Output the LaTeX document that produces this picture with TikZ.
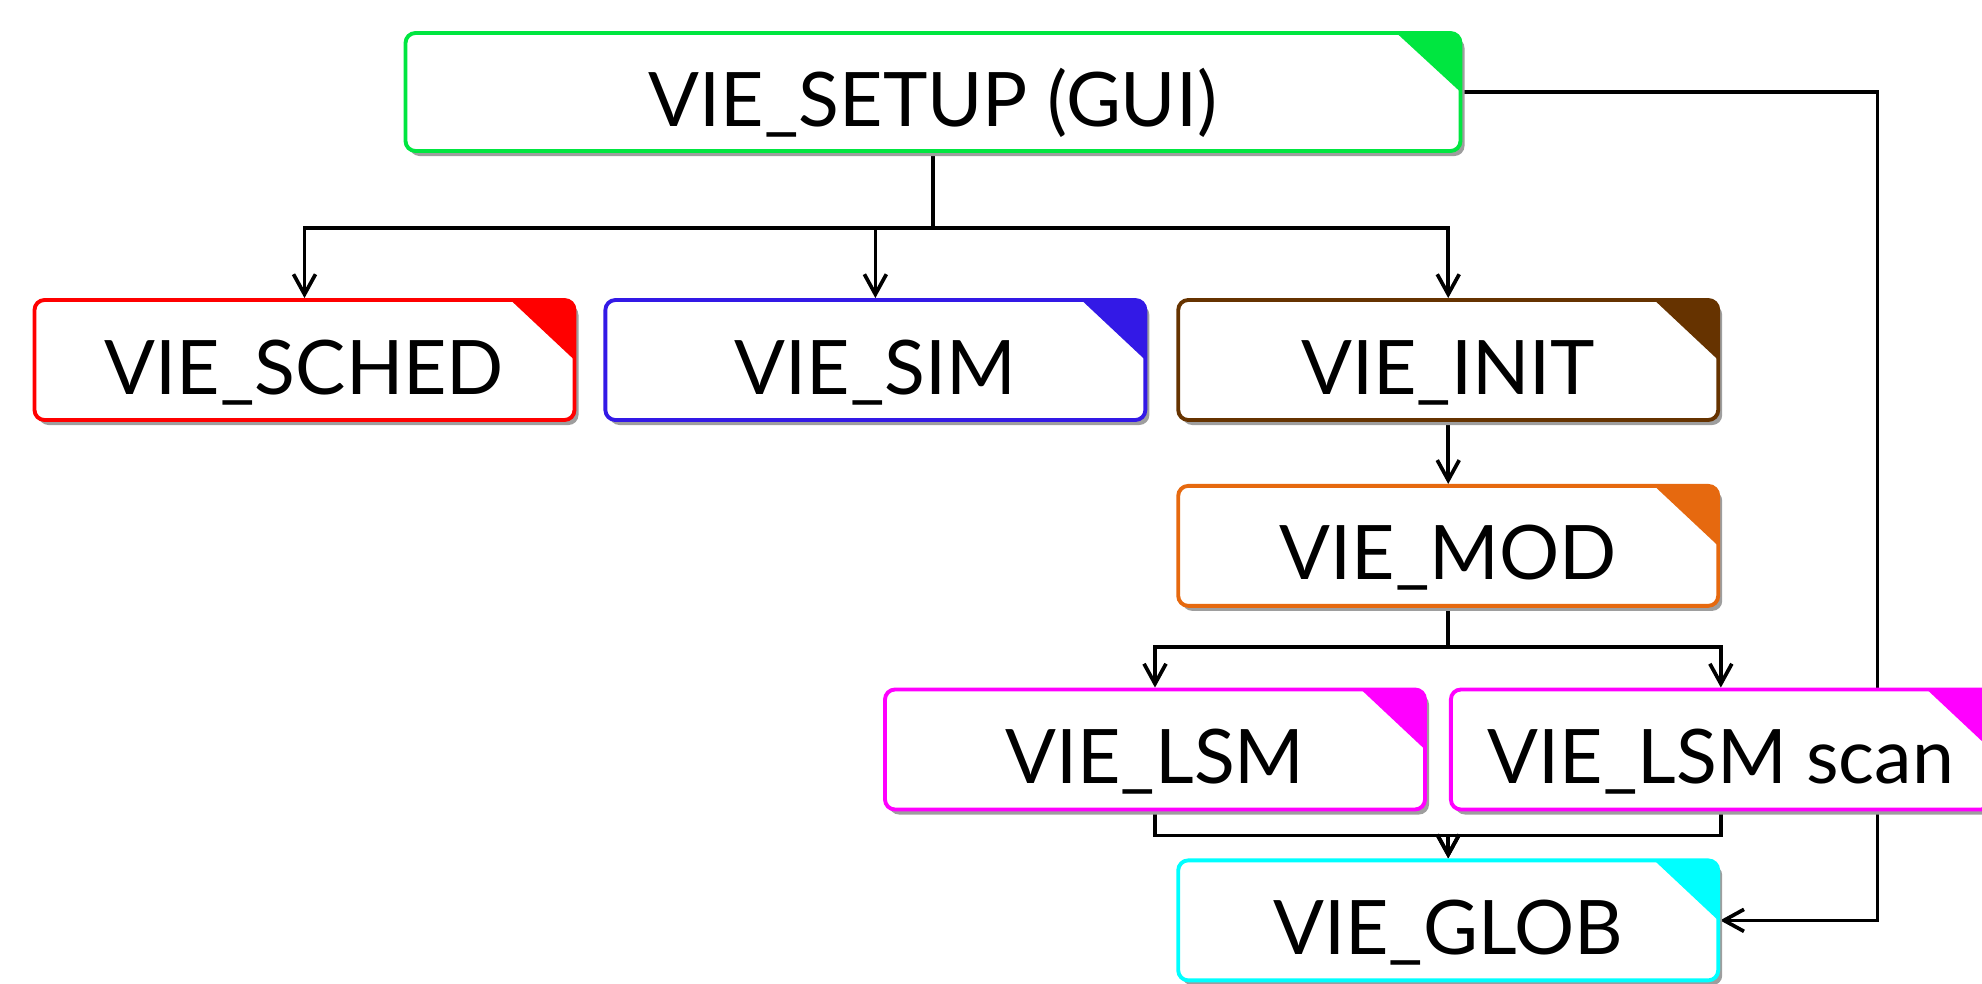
\documentclass[tikz,border=0pt]{standalone}
\usepackage{fontspec}
\setmainfont{Lato}
\usetikzlibrary{positioning,shadows,backgrounds,arrows.meta}

\definecolor{setupgreen}{RGB}{0,230,64}
\definecolor{schedred}{RGB}{255,0,0}
\definecolor{simblue}{RGB}{51,25,230}
\definecolor{initbrown}{RGB}{102,51,0}
\definecolor{modorange}{RGB}{230,105,15}
\definecolor{lsmmagenta}{RGB}{255,0,255}
\definecolor{globcyan}{RGB}{0,255,255}

\tikzset{
  module/.style={draw=#1, fill=white, line width=1.1pt, rounded corners=0.1cm,
    minimum width=5.40cm, minimum height=1.2cm, inner sep=0pt,
    font=\fontsize{21.4}{26}\selectfont, text height=0.68cm, text depth=0pt,
    drop shadow={shadow xshift=0.04cm, shadow yshift=-0.05cm, fill=black!38, opacity=1},
    path picture={\fill[#1, sharp corners] (path picture bounding box.north east)
      -- ++(-0.64,0) -- (path picture bounding box.east) -- cycle;}},
  link/.style={line width=1.05pt, -{Straight Barb[length=2mm,width=2.2mm]}},
}

\begin{document}
\begin{tikzpicture}
  \useasboundingbox (0,0) rectangle (19.82,-9.84);

  \node[module=setupgreen, minimum width=10.55cm, minimum height=1.18cm] (setup) at (9.33,-0.92) {VIE\_SETUP (GUI)};
  \node[module=schedred]   (sched) at (3.045,-3.60) {VIE\_SCHED};
  \node[module=simblue]    (sim)   [right=0.27cm of sched] {VIE\_SIM};
  \node[module=initbrown]  (init)  [right=0.29cm of sim] {VIE\_INIT};
  \node[module=modorange]  (mod)   [below=0.62cm of init] {VIE\_MOD};
  \node[module=lsmmagenta] (lsm)   at (11.55,-7.495) {VIE\_LSM};
  \node[module=lsmmagenta] (scan)  [right=0.22cm of lsm] {VIE\_LSM scan};
  \node[module=globcyan]   (glob)  [below=0.47cm of mod |- lsm.south, anchor=north] {VIE\_GLOB};

  \begin{scope}[on background layer]
    \draw[link] (setup.south) -- ++(0,-0.75) -| (sched.north);
    \draw[link] (setup.south) -- ++(0,-0.75) -| (sim.north);
    \draw[link] (setup.south) -- ++(0,-0.75) -| (init.north);
    \draw[link] (init) -- (mod);
    \draw[link] (mod.south) -- ++(0,-0.39) -| (lsm.north);
    \draw[link] (mod.south) -- ++(0,-0.39) -| (scan.north);
    \draw[link] (lsm.south) -- ++(0,-0.24) -| (glob.north);
    \draw[link] (scan.south) -- ++(0,-0.24) -| (glob.north);
    \draw[link] (setup.east) -- ++(4.15,0) |- (glob.east);
  \end{scope}
\end{tikzpicture}
\end{document}
